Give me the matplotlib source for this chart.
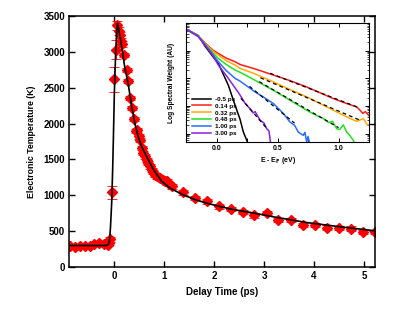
import numpy as np
import matplotlib
matplotlib.use("Agg")
import matplotlib.pyplot as plt

plt.rcParams['font.family'] = ['Liberation Sans', 'DejaVu Sans']
plt.rcParams['font.weight'] = 'bold'

# main panel: measured electronic temperature (red diamonds)
delay_ps = [-0.89, -0.79, -0.69, -0.59, -0.49, -0.40, -0.30, -0.21, -0.13, -0.10,
            -0.075, -0.035, 0.007, 0.033, 0.068, 0.09, 0.11, 0.13, 0.15, 0.207,
            0.253, 0.287, 0.32, 0.367, 0.405, 0.43, 0.46, 0.49, 0.52, 0.553,
            0.587, 0.62, 0.653, 0.687, 0.72, 0.753, 0.787, 0.82, 0.867, 0.92,
            0.973, 1.02, 1.067, 1.107, 1.153, 1.373, 1.62, 1.853, 2.10, 2.333,
            2.573, 2.807, 3.053, 3.287, 3.54, 3.773, 4.02, 4.253, 4.50, 4.74,
            4.987, 5.22]
temp_K = [290, 280, 288, 287, 296, 320, 330, 322, 310, 330,
          385, 1040, 2615, 3030, 3370, 3290, 3240, 3150, 3110, 2960,
          2750, 2590, 2360, 2220, 2065, 1900, 1910, 1820, 1775, 1660,
          1590, 1543, 1497, 1450, 1403, 1357, 1320, 1287, 1264, 1241,
          1218, 1204, 1194, 1162, 1124, 1040, 962, 915, 845, 809,
          767, 720, 753, 660, 660, 588, 582, 550, 542, 535,
          488, 488]
temp_err = [20, 20, 20, 20, 20, 20, 20, 20, 20, 20,
            30, 85, 180, 130, 60, 50, 40, 40, 40, 30,
            30, 30, 30, 30, 30, 30, 30, 30, 30, 30,
            30, 30, 30, 30, 30, 30, 30, 30, 30, 30,
            30, 30, 30, 30, 30, 30, 30, 30, 30, 30,
            30, 30, 30, 30, 30, 30, 30, 30, 30, 30,
            30, 30]

# main panel: model curve (black line)
fit_t = [-0.90, -0.15, -0.11, -0.09, -0.07, -0.047, -0.027, -0.013, 0.007, 0.033,
         0.055, 0.073, 0.10, 0.153, 0.207, 0.287, 0.353, 0.42, 0.487, 0.553,
         0.653, 0.787, 0.953, 1.12, 1.387, 1.62, 1.853, 2.32, 2.8, 3.187,
         3.853, 4.533, 5.22]
fit_T = [300, 300, 320, 370, 560, 890, 1360, 1780, 2430, 2990,
         3300, 3400, 3290, 3080, 2820, 2540, 2240, 1990, 1810, 1680,
         1540, 1360, 1195, 1100, 1005, 940, 890, 810, 752, 700,
         620, 560, 505]

# inset: log10 spectral weight vs E - E_F (eV)
spec_labels = ['-0.5 ps', '0.14 ps', '0.32 ps', '0.48 ps', '1.00 ps', '3.00 ps']
spec_colors = ['black', '#ff1a1a', '#ffaa00', '#22e022', '#2a6cff', '#8a1fe0']
spec_E = [
    [-0.25, -0.15, -0.094, -0.039, 0.015, 0.097, 0.152, 0.193, 0.220, 0.248, 0.262],
    [-0.25, -0.15, -0.094, -0.03, 0.015, 0.08, 0.152, 0.193, 0.316, 0.466, 0.60, 0.739,
     0.957, 1.067, 1.149, 1.17, 1.20, 1.22, 1.258],
    [-0.25, -0.15, -0.094, -0.03, 0.015, 0.08, 0.152, 0.193, 0.316, 0.466, 0.60, 0.739,
     0.957, 1.094, 1.149, 1.18, 1.203, 1.23, 1.258],
    [-0.25, -0.15, -0.094, -0.03, 0.015, 0.08, 0.152, 0.193, 0.316, 0.466, 0.602, 0.70,
     0.739, 0.80, 0.875, 0.92, 0.95, 0.985, 1.01, 1.039, 1.067, 1.09, 1.121, 1.135],
    [-0.25, -0.15, -0.094, -0.03, 0.015, 0.08, 0.152, 0.193, 0.316, 0.40, 0.466, 0.548,
     0.602, 0.64, 0.670, 0.711, 0.725, 0.739, 0.75, 0.766],
    [-0.25, -0.15, -0.094, -0.03, 0.015, 0.097, 0.185, 0.234, 0.275, 0.30, 0.316, 0.357,
     0.39, 0.411, 0.43, 0.445],
]
spec_logW = [
    [-0.22, -0.45, -0.84, -1.16, -1.46, -2.25, -2.97, -3.48, -3.94, -4.24, -4.40],
    [-0.22, -0.46, -0.72, -0.98, -1.10, -1.27, -1.40, -1.50, -1.66, -1.88, -2.08, -2.31,
     -2.73, -2.91, -3.03, -3.12, -3.27, -3.20, -3.39],
    [-0.22, -0.47, -0.74, -1.02, -1.16, -1.36, -1.52, -1.64, -1.84, -2.13, -2.40, -2.67,
     -3.15, -3.45, -3.55, -3.50, -3.45, -3.65, -3.70],
    [-0.22, -0.47, -0.76, -1.08, -1.28, -1.50, -1.70, -1.78, -2.07, -2.43, -2.79, -3.05,
     -3.15, -3.30, -3.45, -3.60, -3.55, -3.82, -3.85, -3.68, -3.94, -4.05, -4.24, -4.40],
    [-0.22, -0.48, -0.78, -1.14, -1.40, -1.72, -2.00, -2.10, -2.49, -2.72, -2.91, -3.27,
     -3.58, -3.70, -3.94, -4.06, -3.95, -4.30, -4.10, -4.40],
    [-0.22, -0.49, -0.80, -1.18, -1.52, -2.00, -2.55, -2.90, -3.10, -3.25, -3.20, -3.51,
     -3.62, -3.82, -3.90, -4.40],
]
# dashed straight-line fits to the tails (endpoints)
tail_E = [[0.44, 1.16], [0.36, 1.18], [0.35, 1.00], [0.27, 0.64], [0.20, 0.42]]
tail_logW = [[-1.82, -3.05], [-1.98, -3.52], [-2.12, -3.78], [-2.29, -3.62], [-2.72, -3.85]]

fig = plt.figure(figsize=(4.15, 3.12), dpi=100)
ax = fig.add_axes([0.1663, 0.1442, 0.7373, 0.8045])

ax.plot(fit_t, fit_T, color='black', lw=1.2, zorder=3)
ax.errorbar(delay_ps, temp_K, yerr=temp_err, fmt='D', color='red', ms=5.3,
            mec='red', ecolor='red', elinewidth=0.6, capsize=3.5, capthick=0.6, zorder=2)

ax.set_xlim(-0.9, 5.22)
ax.set_ylim(0, 3500)
ax.set_xticks([0, 1, 2, 3, 4, 5])
ax.set_yticks(np.arange(0, 3501, 500))
ax.tick_params(direction='in', top=True, right=True, length=4, width=1, labelsize=7, pad=3)
for lab in ax.get_xticklabels() + ax.get_yticklabels():
    lab.set_fontweight('bold')
for sp in ax.spines.values():
    sp.set_linewidth(1.1)
ax.set_xlabel('Delay Time (ps)', fontsize=7, fontweight='bold', labelpad=4)
ax.set_ylabel('Electronic Temperature (K)', fontsize=6.3, fontweight='bold', labelpad=5)

# inset
ins = fig.add_axes([0.4482, 0.5449, 0.441, 0.3814])
for E, L, c, lab in zip(spec_E, spec_logW, spec_colors, spec_labels):
    ins.plot(E, 10 ** np.array(L), color=c, lw=1.1, label=lab)
for E, L in zip(tail_E, tail_logW):
    ins.plot(E, 10 ** np.array(L), color='black', lw=0.9, ls=(0, (3, 2.5)), zorder=4)

ins.set_yscale('log')
ins.set_xlim(-0.25, 1.25)
ins.set_ylim(10 ** -4.3, 1)
ins.set_xticks([0.0, 0.5, 1.0])
ins.set_xticks([0.25, 0.75], minor=True)
ins.set_yticks([1e-4, 1e-3, 1e-2, 1e-1])
ins.set_yticklabels([])
ins.yaxis.set_minor_formatter(matplotlib.ticker.NullFormatter())
ins.tick_params(which='both', direction='in', top=True, right=True, labelsize=5, pad=2)
ins.tick_params(which='major', length=3, width=0.7)
ins.tick_params(which='minor', length=1.8, width=0.5)
ins.tick_params(axis='x', which='minor', length=3, width=0.7)
for lab in ins.get_xticklabels():
    lab.set_fontweight('bold')
for sp in ins.spines.values():
    sp.set_linewidth(0.8)
ins.set_xlabel('E - E$_\\mathbf{F}$ (eV)', fontsize=5, fontweight='bold', labelpad=2)
ins.set_ylabel('Log Spectral Weight (AU)', fontsize=4.8, fontweight='bold', labelpad=6)
leg = ins.legend(loc='lower left', fontsize=4.6, frameon=False, handlelength=3.0,
                 labelspacing=0.22, borderaxespad=0.5, handletextpad=0.6)
for t in leg.get_texts():
    t.set_fontweight('bold')

fig.savefig('out.png', dpi=100)
